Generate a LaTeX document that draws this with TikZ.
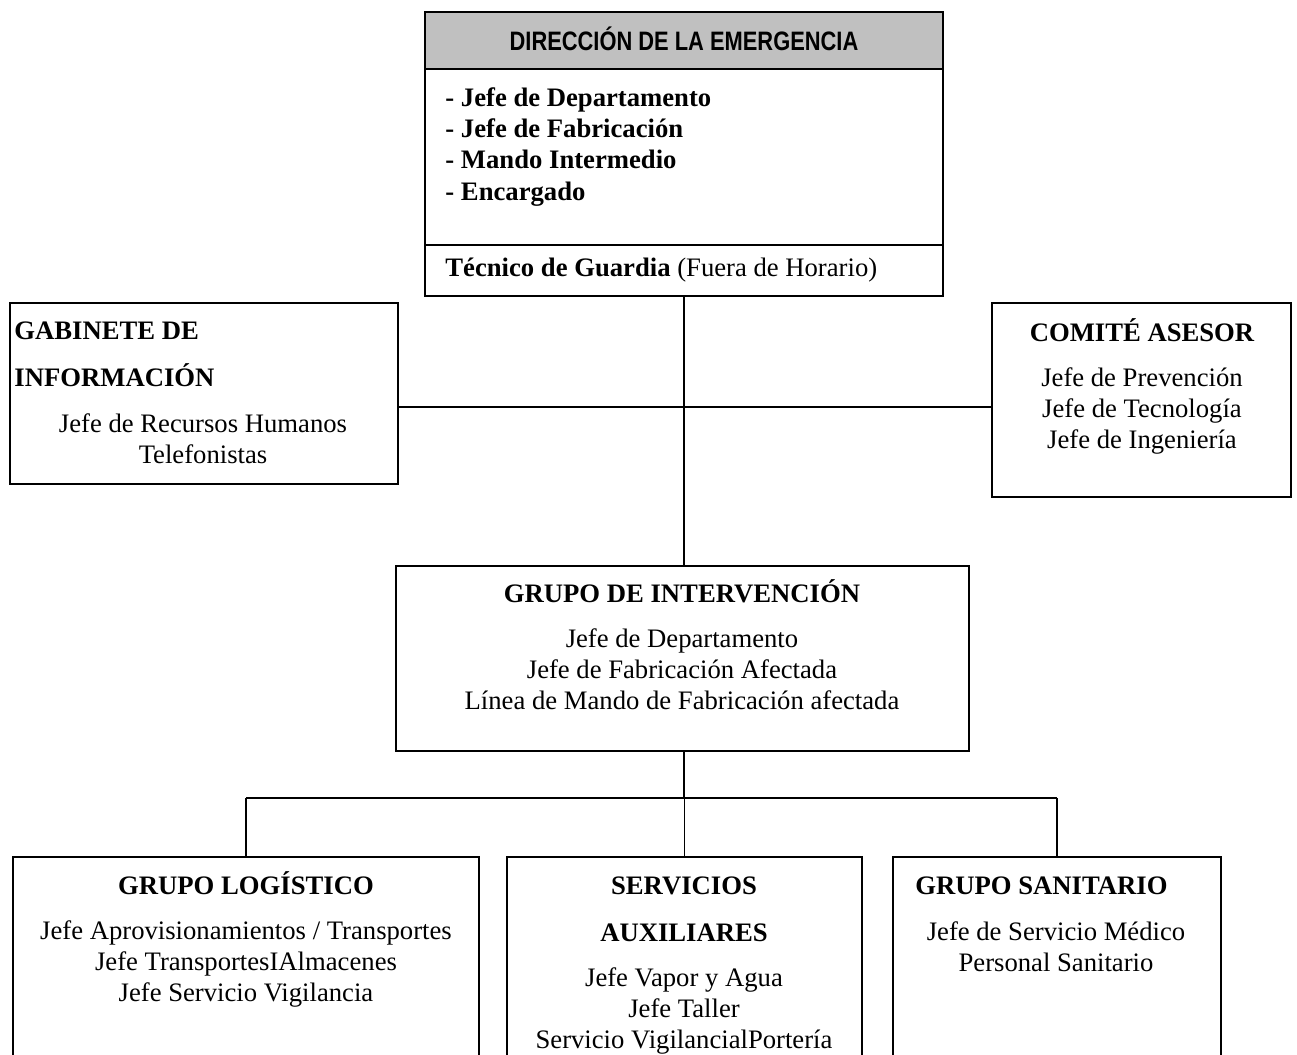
\documentclass[tikz,border=0pt]{standalone}
\usepackage{fontspec}
\setmainfont{Liberation Serif}
\newfontfamily\narrowfont[FakeStretch=0.82]{Liberation Sans}
\usetikzlibrary{positioning,fit}
\definecolor{headgray}{RGB}{192,192,192}

\begin{document}
\begin{tikzpicture}
  [x=0.45pt,y=-0.45pt,
   box/.style={draw,line width=0.9pt,inner sep=0pt},
   txt/.style={inner sep=0pt,align=center,font=\fontsize{12}{14}\selectfont},
   ttl/.style={inner sep=0pt,align=center,font=\fontsize{12}{14}\selectfont\bfseries},
   link/.style={line width=0.7pt}]
  \path[use as bounding box,fill=white] (0,0) rectangle (1297,1055);
  \clip (0,0) rectangle (1297,1055);
  % boxes
  \node[box,fill=headgray,fit={(425,12) (943,69)}] (dirhead) {};
  \node[box,fit={(425,69) (943,245)}] (dirbody) {};
  \node[box,fit={(425,245) (943,296)}] (dirfoot) {};
  \foreach \name/\a/\b in {gab/{10,303}/{398,484},com/{992,303}/{1291,497},
      gi/{396,566}/{969,751},log/{13,857}/{479,1080},
      serv/{507,857}/{862,1080},san/{893,857}/{1221,1080}}
    \node[box,fit={(\a) (\b)}] (\name) {};
  % texts
  \node[inner sep=0pt,font=\narrowfont\bfseries\fontsize{12}{14}\selectfont] (dirtitle) at (684,39) {DIRECCIÓN DE LA EMERGENCIA};
  \node[ttl,align=left,anchor=west] (dirlist) at (445,147) {- Jefe de Departamento\\- Jefe de Fabricación\\- Mando Intermedio\\- Encargado};
  \node[txt,anchor=west] (dirnote) at (445,270) {\textbf{Técnico de Guardia} (Fuera de Horario)};
  \node[ttl,align=left,anchor=west] (gabtitle) at (14,354) {GABINETE DE\\[7pt]INFORMACIÓN};
  \node[txt] (gablist) at (203,438.5) {Jefe de Recursos Humanos\\Telefonistas};
  \node[ttl] (comtitle) at (1142,330) {COMITÉ ASESOR};
  \node[txt] (comlist) at (1142,411) {Jefe de Prevención\\Jefe de Tecnología\\Jefe de Ingeniería};
  \node[ttl] (gititle) at (682,591) {GRUPO DE INTERVENCIÓN};
  \node[txt] (gilist) at (682,669) {Jefe de Departamento\\Jefe de Fabricación Afectada\\Línea de Mando de Fabricación afectada};
  \node[ttl] (logtitle) at (246,883) {GRUPO LOGÍSTICO};
  \node[txt] (loglist) at (246,964) {Jefe Aprovisionamientos / Transportes\\Jefe TransportesIAlmacenes\\Jefe Servicio Vigilancia};
  \node[ttl] (servtitle) at (684,909) {SERVICIOS\\[7pt]AUXILIARES};
  \node[txt] (servlist) at (684,1011) {Jefe Vapor y Agua\\Jefe Taller\\Servicio VigilancialPortería};
  \node[ttl,anchor=west] (santitle) at (915,886) {GRUPO SANITARIO};
  \node[txt] (sanlist) at (1056,946.5) {Jefe de Servicio Médico\\Personal Sanitario};
  % connectors
  \coordinate (hub) at (684,407);
  \coordinate (fork) at (684,798);
  \draw[link] (dirfoot.south) -- (dirfoot.south |- gi.north);
  \draw[link] (gab.east |- hub) -- (com.west |- hub);
  \draw[link] (gi.south -| fork) -- (fork);
  \draw[link] (log.north |- fork) -- (san.north |- fork);
  \foreach \b in {log,serv,san}
    \draw[link] (\b.north |- fork) -- (\b.north);
\end{tikzpicture}
\end{document}
